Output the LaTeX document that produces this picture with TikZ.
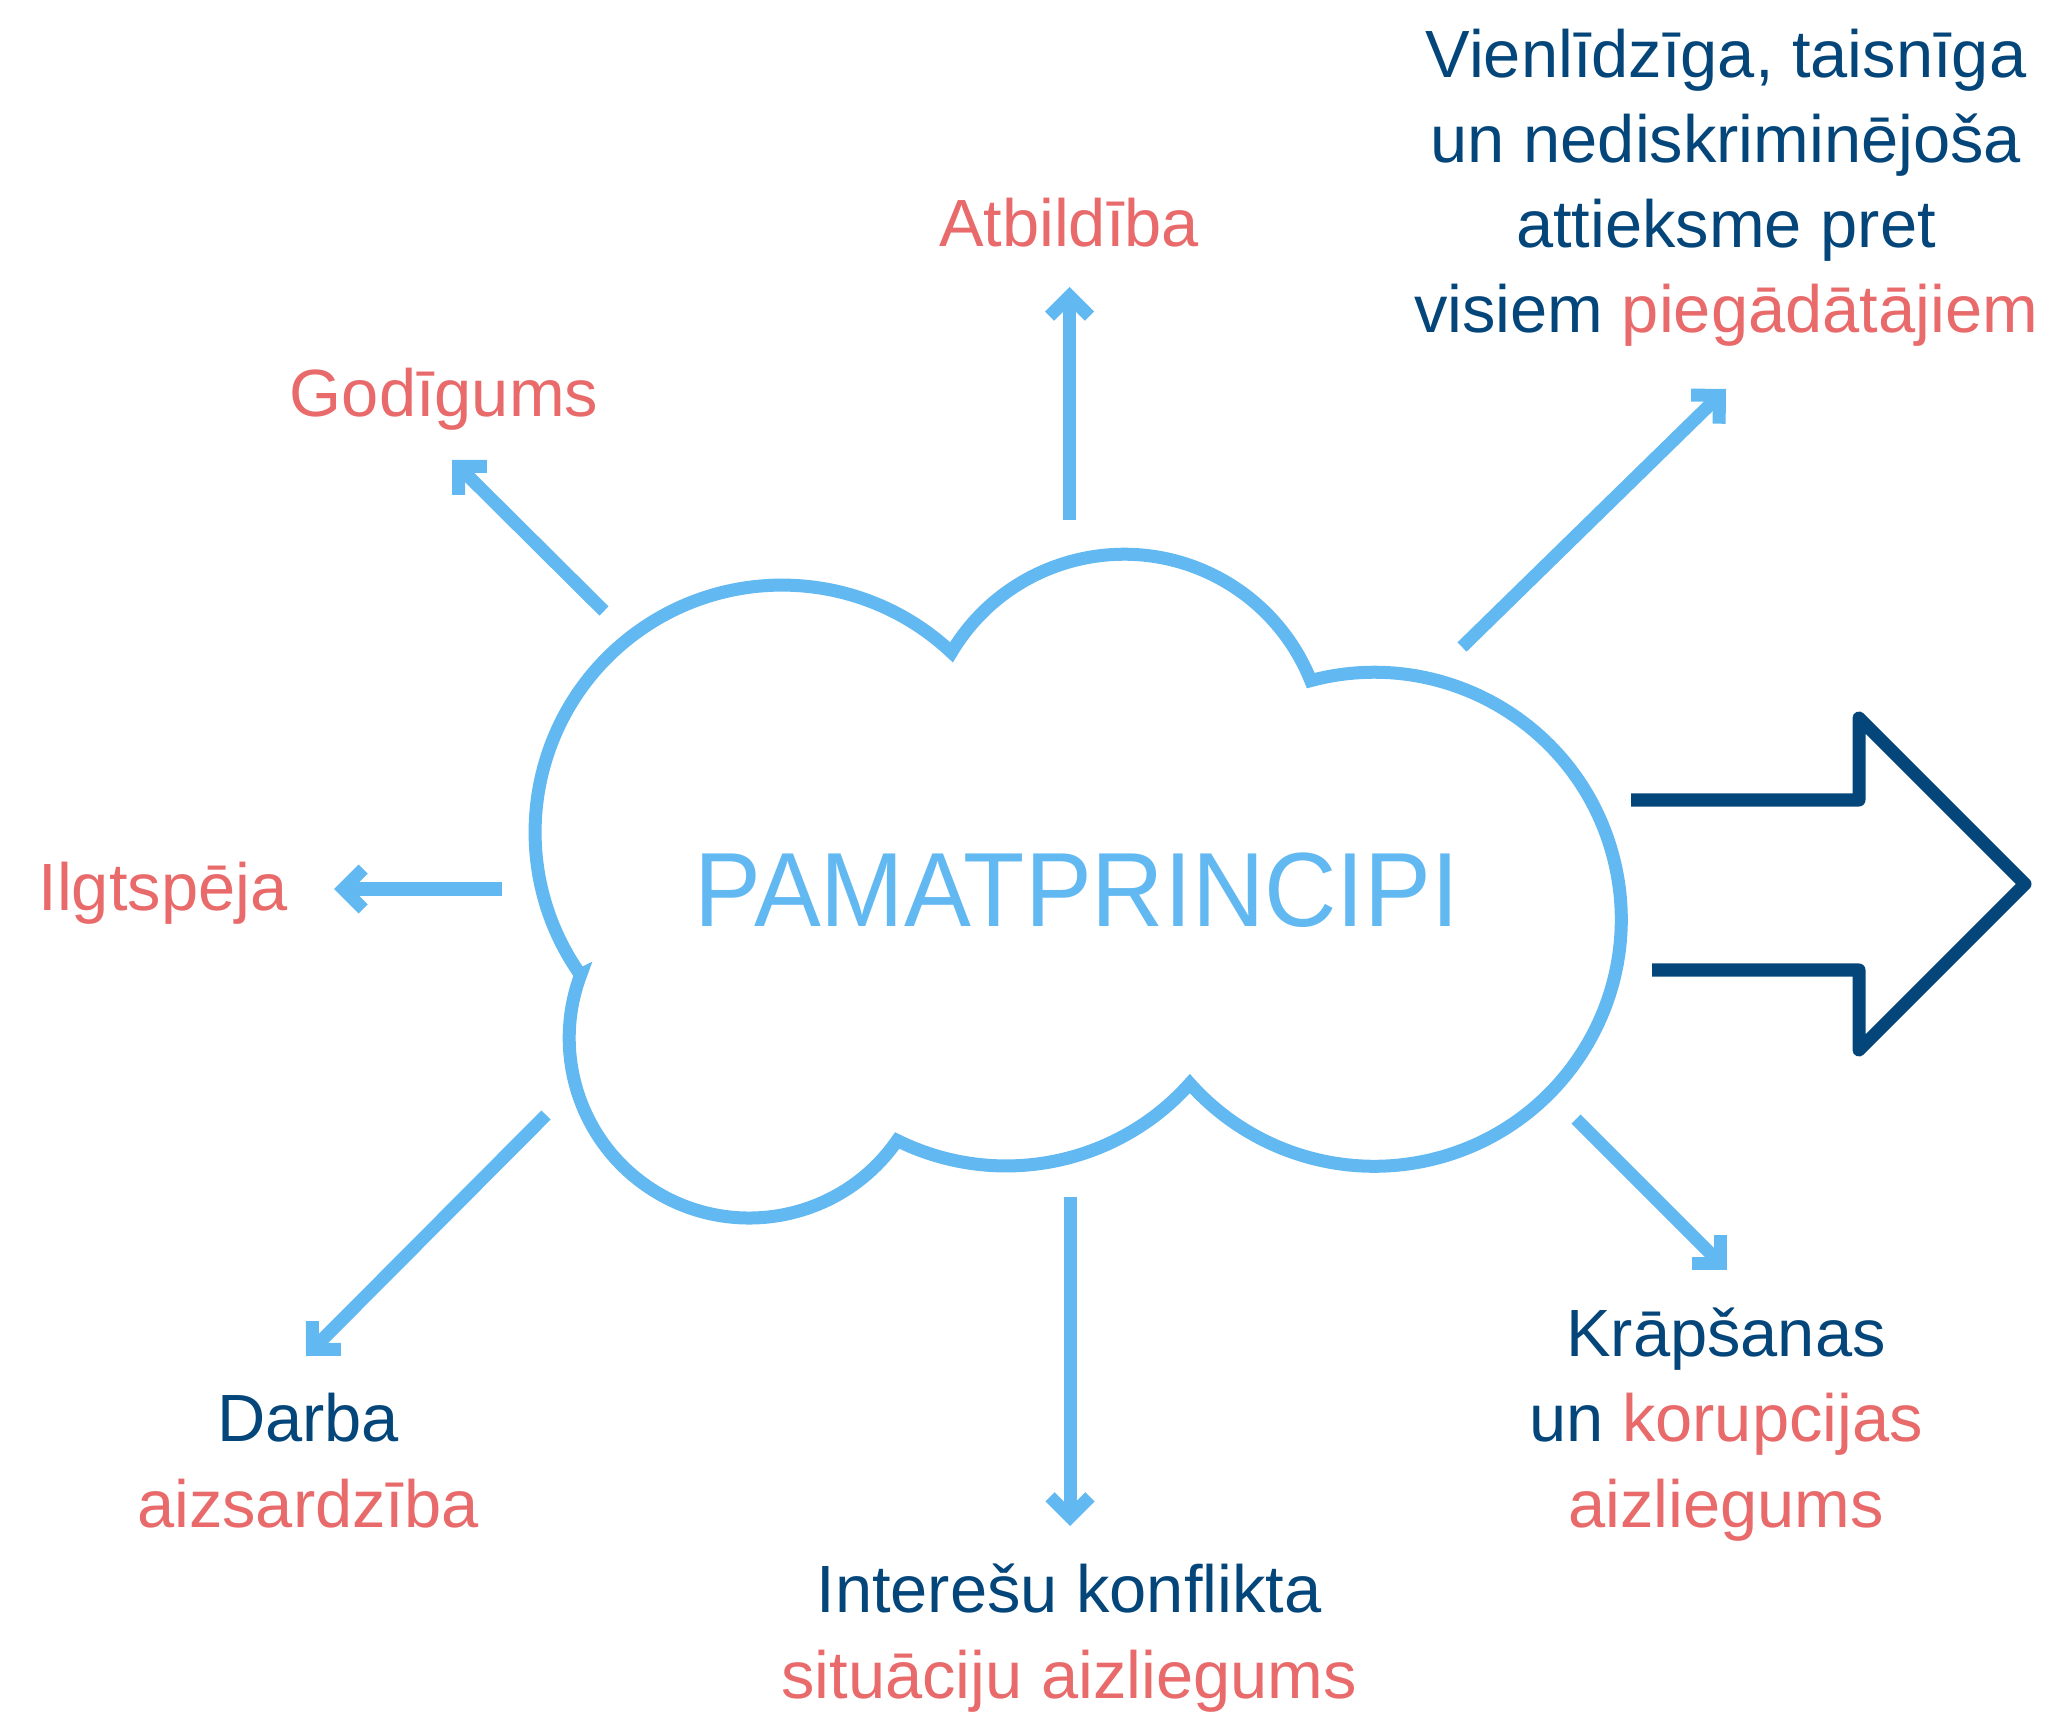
\documentclass[tikz,border=0pt]{standalone}
\usepackage{fontspec}
\setmainfont{Liberation Sans}
\newfontfamily\bigfont[FakeStretch=0.95]{Liberation Sans}
\usepackage{xcolor}
\usetikzlibrary{arrows.meta}
\definecolor{lblue}{HTML}{62B8F1}
\definecolor{navy}{HTML}{04467A}
\definecolor{coral}{HTML}{E86A6B}
\tikzset{
ray/.style={lblue,line width=0.13cm,-{Straight Barb[length=0.2cm,width=0.4cm,line cap=butt,line join=miter]}},
lbl/.style={anchor=base,align=center,inner sep=0pt,font=\fontsize{19}{24.2}\selectfont},
}

\begin{document}
\begin{tikzpicture}[x=0.01cm,y=-0.01cm]
\useasboundingbox(0,0)rectangle(2061,1713);
% cloud
\draw[lblue,line width=0.13cm,line join=miter](580.5,974.8)
 arc[start angle=144.7,end angle=313.3,radius=247]
 arc[start angle=210.8,end angle=338.2,radius=201]
 arc[start angle=-104.9,end angle=138.3,radius=247]
 arc[start angle=41.7,end angle=116.3,radius=246]
 arc[start angle=34.7,end angle=200.6,radius=180]--cycle;
\node[lblue,anchor=base,inner sep=0pt,font=\bigfont\fontsize{30}{36}\selectfont](main)at(1077,926){PAMATPRINCIPI};
% big arrow
\draw[navy,line width=0.13cm,line join=round](1631,800)--(1859,800)--(1859,718)--(2025,884)--(1859,1050)--(1859,970)--(1652,970);
% labels (base = last line)
\node[lbl,coral](atbildiba)at(1069,247){Atbildība};
\node[lbl,coral](godigums)at(444,417){Godīgums};
\node[lbl,coral](ilgtspeja)at(163,910){Ilgtspēja};
\node[lbl,navy](vienlidziga)at(1726,333){Vienlīdzīga, taisnīga\\un nediskriminējoša\\attieksme pret\\visiem \textcolor{coral}{piegādātājiem}};
\node[lbl,navy](darba)at(308,1527){Darba\\\textcolor{coral}{aizsardzība}};
\node[lbl,navy](interesu)at(1069,1698){Interešu konflikta\\\textcolor{coral}{situāciju aizliegums}};
\node[lbl,navy](krapsanas)at(1726,1527){Krāpšanas\\un \textcolor{coral}{korupcijas}\\\textcolor{coral}{aizliegums}};
% rays
\coordinate(g0)at(604,611);\coordinate(g1)at(452,460);
\coordinate(a0)at(1069.5,520);\coordinate(a1)at(1069.5,287);
\coordinate(v0)at(1462,647);\coordinate(v1)at(1726,389);
\coordinate(i0)at(502,889);\coordinate(i1)at(334,889);
\coordinate(d0)at(546,1115);\coordinate(d1)at(306,1356);
\coordinate(k0)at(1070,1197);\coordinate(k1)at(1070,1526);
\coordinate(p0)at(1576,1119);\coordinate(p1)at(1727,1270);
\draw[ray](g0)--(g1);
\draw[ray](a0)--(a1);
\draw[ray](v0)--(v1);
\draw[ray](i0)--(i1);
\draw[ray](d0)--(d1);
\draw[ray](k0)--(k1);
\draw[ray](p0)--(p1);
\end{tikzpicture}
\end{document}
